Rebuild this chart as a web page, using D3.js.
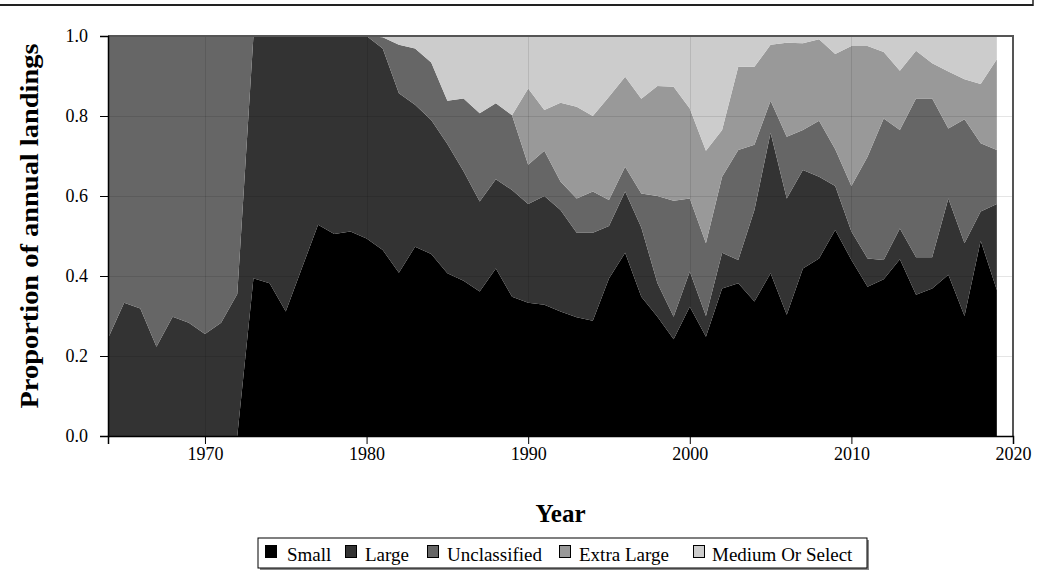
<!DOCTYPE html>
<html>
<head>
<meta charset="utf-8">
<script src="https://cdn.jsdelivr.net/npm/d3@7"></script>
<style>
  html, body { margin: 0; padding: 0; background: #fff; }
  svg { display: block; font-family: "Liberation Serif", "Times New Roman", serif; }
</style>
</head>
<body>
<svg id="chart" width="1043" height="584"></svg>
<script>
// Landings by market category, 1964–2019, as proportions of each year's total
const years = d3.range(1964, 2020);
const categories = ["Small", "Large", "Unclassified", "Extra Large", "Medium Or Select"];
const colors = ["#000000", "#333333", "#666666", "#999999", "#cccccc"];

const small = [
  0, 0, 0, 0, 0, 0, 0, 0, 0,
  0.394, 0.382, 0.311, 0.420, 0.528, 0.505, 0.511, 0.494,
  0.465, 0.408, 0.473, 0.455, 0.407, 0.388, 0.361, 0.419, 0.348,
  0.333, 0.328, 0.311, 0.297, 0.288, 0.394, 0.458, 0.348, 0.298, 0.242,
  0.323, 0.248, 0.369, 0.382, 0.336, 0.407, 0.303, 0.419, 0.444, 0.515,
  0.440, 0.373, 0.392, 0.442, 0.353, 0.369, 0.403, 0.300, 0.488, 0.365
];
const large = [
  0.244, 0.333, 0.319, 0.223, 0.298, 0.283, 0.255, 0.283, 0.355,
  0.606, 0.618, 0.689, 0.580, 0.472, 0.495, 0.489, 0.506,
  0.504, 0.449, 0.355, 0.335, 0.323, 0.274, 0.225, 0.223, 0.267,
  0.247, 0.272, 0.254, 0.211, 0.220, 0.131, 0.153, 0.173, 0.084, 0.056,
  0.088, 0.052, 0.089, 0.058, 0.229, 0.351, 0.291, 0.246, 0.204, 0.110,
  0.071, 0.071, 0.048, 0.077, 0.094, 0.078, 0.191, 0.182, 0.073, 0.215
];
const unclassified = [
  0.756, 0.667, 0.681, 0.777, 0.702, 0.717, 0.745, 0.717, 0.645,
  0, 0, 0, 0, 0, 0, 0, 0,
  0.028, 0.121, 0.141, 0.144, 0.108, 0.182, 0.221, 0.190, 0.187,
  0.098, 0.113, 0.071, 0.086, 0.103, 0.065, 0.062, 0.085, 0.218, 0.290,
  0.183, 0.182, 0.190, 0.275, 0.163, 0.080, 0.154, 0.100, 0.140, 0.092,
  0.114, 0.254, 0.354, 0.246, 0.397, 0.397, 0.175, 0.310, 0.171, 0.135
];
const extraLarge = [
  0, 0, 0, 0, 0, 0, 0, 0, 0,
  0, 0, 0, 0, 0, 0, 0, 0,
  0, 0, 0, 0, 0, 0, 0, 0, 0,
  0.191, 0.102, 0.197, 0.229, 0.189, 0.258, 0.225, 0.237, 0.275, 0.285,
  0.225, 0.231, 0.117, 0.208, 0.195, 0.140, 0.235, 0.217, 0.204, 0.238,
  0.350, 0.277, 0.166, 0.148, 0.119, 0.088, 0.142, 0.100, 0.148, 0.227
];
const mediumOrSelect = [
  0, 0, 0, 0, 0, 0, 0, 0, 0,
  0, 0, 0, 0, 0, 0, 0, 0,
  0.003, 0.022, 0.031, 0.066, 0.162, 0.156, 0.193, 0.168, 0.198,
  0.131, 0.185, 0.167, 0.177, 0.200, 0.152, 0.102, 0.157, 0.125, 0.127,
  0.181, 0.287, 0.235, 0.077, 0.077, 0.022, 0.017, 0.018, 0.008, 0.045,
  0.025, 0.025, 0.040, 0.087, 0.037, 0.068, 0.089, 0.108, 0.120, 0.058
];
const xTicks = [1970, 1980, 1990, 2000, 2010, 2020];
const yTicks = [0, 0.2, 0.4, 0.6, 0.8, 1.0];

const seriesValues = [small, large, unclassified, extraLarge, mediumOrSelect];
const rows = years.map((yr, i) => {
  const r = { year: yr };
  categories.forEach((c, k) => { r[c] = seriesValues[k][i]; });
  return r;
});

const svg = d3.select("#chart");
const margin = { left: 108, top: 36, right: 30, bottom: 148 };
const W = 1043, H = 584;
const plotW = W - margin.left - margin.right;   // 905
const plotH = H - margin.top - margin.bottom;   // 400

const x = d3.scaleLinear().domain([1964, 2020]).range([margin.left, margin.left + plotW]);
const y = d3.scaleLinear().domain([0, 1]).range([margin.top + plotH, margin.top]);

// page rule across the top
svg.append("line").attr("x1", 0).attr("x2", 1033).attr("y1", 5).attr("y2", 5)
  .attr("stroke", "#222").attr("stroke-width", 2);
svg.append("line").attr("x1", 1033).attr("x2", 1033).attr("y1", 0).attr("y2", 6)
  .attr("stroke", "#222").attr("stroke-width", 1.5);

// stacked areas
const stacked = d3.stack().keys(categories)(rows);
const area = d3.area()
  .x(d => x(d.data.year))
  .y0(d => y(d[0]))
  .y1(d => y(d[1]));

svg.append("g").selectAll("path")
  .data(stacked)
  .join("path")
  .attr("d", area)
  .attr("fill", (d, i) => colors[i]);

// grid lines over the areas
const grid = svg.append("g").attr("stroke", "#000").attr("stroke-opacity", 0.1).attr("stroke-width", 1);
grid.selectAll("line.h").data(yTicks.slice(1)).join("line").attr("class", "h")
  .attr("x1", margin.left).attr("x2", margin.left + plotW)
  .attr("y1", d => Math.round(y(d)) + 0.5).attr("y2", d => Math.round(y(d)) + 0.5);
grid.selectAll("line.v").data(xTicks.slice(0, -1)).join("line").attr("class", "v")
  .attr("y1", margin.top).attr("y2", margin.top + plotH)
  .attr("x1", d => Math.round(x(d)) + 0.5).attr("x2", d => Math.round(x(d)) + 0.5);

// frame (top and right)
svg.append("path")
  .attr("d", `M${margin.left},${margin.top}H${margin.left + plotW}V${margin.top + plotH}`)
  .attr("fill", "none").attr("stroke", "#555").attr("stroke-width", 2);

// axes
const xAxis = d3.axisBottom(x).tickValues(xTicks).tickFormat(d3.format("d")).tickSizeOuter(0).tickSize(8).tickPadding(3);
const gx = svg.append("g").attr("transform", `translate(0,${margin.top + plotH})`).call(xAxis);
const yAxis = d3.axisLeft(y).tickValues(yTicks).tickFormat(d3.format(".1f")).tickSizeOuter(0).tickSize(8).tickPadding(12);
const gy = svg.append("g").attr("transform", `translate(${margin.left},0)`).call(yAxis);
[gx, gy].forEach(g => {
  g.select(".domain").attr("stroke", "#000").attr("stroke-width", 1.5);
  g.selectAll(".tick line").attr("stroke", "#000");
  g.selectAll(".tick text").attr("fill", "#000").attr("font-size", 18)
    .attr("font-family", "Liberation Serif, serif");
});

// axis titles
svg.append("text")
  .attr("x", margin.left + plotW / 2)
  .attr("y", 522)
  .attr("text-anchor", "middle")
  .attr("font-weight", "bold").attr("font-size", 25)
  .text("Year");
svg.append("text")
  .attr("transform", `translate(38,${margin.top + plotH / 2 - 10}) rotate(-90)`)
  .attr("text-anchor", "middle")
  .attr("font-weight", "bold").attr("font-size", 25)
  .attr("textLength", 365).attr("lengthAdjust", "spacingAndGlyphs")
  .text("Proportion of annual landings");

// legend
const legendItems = [
  { name: categories[0], sx: 265, tx: 287 },
  { name: categories[1], sx: 345, tx: 365 },
  { name: categories[2], sx: 427, tx: 447 },
  { name: categories[3], sx: 559, tx: 579 },
  { name: categories[4], sx: 693, tx: 712 }
];
const lg = svg.append("g");
lg.append("rect").attr("x", 260).attr("y", 540).attr("width", 609).attr("height", 30)
  .attr("fill", "#888");
lg.append("rect").attr("x", 258).attr("y", 538).attr("width", 609).attr("height", 30)
  .attr("fill", "#fff").attr("stroke", "#000").attr("stroke-width", 1);
lg.selectAll("rect.sw").data(legendItems).join("rect").attr("class", "sw")
  .attr("x", d => d.sx + 0.5).attr("y", 545.5).attr("width", 11).attr("height", 12)
  .attr("fill", (d, i) => colors[i]).attr("stroke", "#000").attr("stroke-width", 1);
lg.selectAll("text").data(legendItems).join("text")
  .attr("x", d => d.tx).attr("y", 561)
  .attr("font-size", 19)
  .text(d => d.name);
</script>
</body>
</html>
